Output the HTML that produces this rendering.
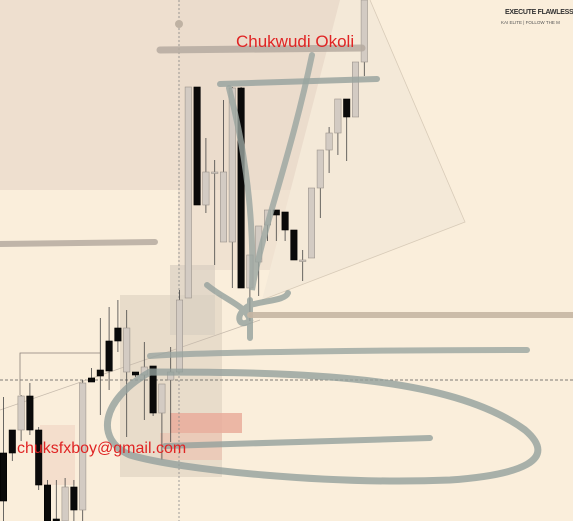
<!DOCTYPE html>
<html><head><meta charset="utf-8"><style>
html,body{margin:0;padding:0;background:#faeedb;}
svg{display:block;}
text{font-family:"Liberation Sans",sans-serif;}
</style></head><body>
<svg id="chart" width="573" height="521" viewBox="0 0 573 521" xmlns="http://www.w3.org/2000/svg">
<rect x="0" y="0" width="573" height="521" fill="#faeedb"/>
<rect x="0" y="0" width="340" height="190" fill="#eedfcf"/>
<rect x="178" y="0" width="162" height="270" fill="#eadbc9" opacity="0.6"/>
<polygon points="370,0 465,222 262,300 340,0" fill="#f4e9d8"/>
<polyline points="370,0 465,222 262,300" fill="none" stroke="#d8cbb8" stroke-width="0.8"/>
<rect x="120" y="295" width="102" height="182" fill="#e3d7c6" opacity="0.8"/>
<rect x="170" y="265" width="45" height="70" fill="#d9cfc2" opacity="0.7"/>
<rect x="170" y="413" width="72" height="20" fill="#e8a997" opacity="0.8"/>
<rect x="160" y="433" width="62" height="27" fill="#edc3b2" opacity="0.7"/>
<rect x="40" y="425" width="35" height="60" fill="#f3dac8" opacity="0.8"/>
<line x1="0" y1="380" x2="573" y2="380" stroke="#555" stroke-width="0.8" stroke-dasharray="3,2"/>
<line x1="179" y1="0" x2="179" y2="521" stroke="#888" stroke-width="0.8" stroke-dasharray="2,2"/>
<circle cx="179" cy="24" r="4" fill="#bfb2a3"/>
<line x1="0" y1="410" x2="260" y2="320" stroke="#c8bcae" stroke-width="0.8"/>
<polyline points="20,395 20,353 100,353" fill="none" stroke="#8a8078" stroke-width="0.8"/>
<g id="candles"></g>
<g fill="none" stroke-linecap="round">
<line x1="160" y1="50" x2="362" y2="48" stroke="#b5aaa0" stroke-width="7" opacity="0.85"/>
<line x1="220" y1="84" x2="377" y2="79" stroke="#9aa5a0" stroke-width="6" opacity="0.85"/>
<line x1="0" y1="244" x2="155" y2="242" stroke="#b5aaa0" stroke-width="6" opacity="0.85"/>
<path d="M229,88 C240,130 255,200 252,290 C262,230 290,160 312,55" stroke="#9aa5a0" stroke-width="6" opacity="0.8"/>
<path d="M207,285 C225,300 245,305 250,320 C240,330 232,315 250,305 C270,300 285,300 288,293 M250,300 L250,338" stroke="#93a09c" stroke-width="6" opacity="0.8"/>
<line x1="250" y1="315" x2="573" y2="315" stroke="#c5b6a3" stroke-width="6" opacity="0.9"/>
<path d="M150,356 C200,352 400,350 527,350" stroke="#9aa5a0" stroke-width="6" opacity="0.8"/>
<path d="M150,372 C300,372 450,375 525,430 C560,460 520,475 450,480 C330,485 180,470 130,455 C95,440 100,400 150,372" stroke="#93a09c" stroke-width="7" opacity="0.8"/>
<line x1="165" y1="446" x2="430" y2="438" stroke="#93a09c" stroke-width="6" opacity="0.8"/>
</g>
<text x="236" y="47" font-size="17" fill="#e02424">Chukwudi Okoli</text>
<text x="17" y="453" font-size="16" fill="#e02424">chuksfxboy@gmail.com</text>
<text x="505" y="14" font-size="7" font-weight="bold" letter-spacing="-0.3" fill="#333">EXECUTE FLAWLESS</text>
<text x="501" y="24" font-size="4.5" fill="#555">KAI ELITE | FOLLOW THE M</text>
</svg>
<script>
const opens  = [68, 91, 91,125,91, 36,  2, 0, 34,11, 143,151,180,193,149,149,146,155,108,141,149, 223,434,316,349,279,279,433,233,259,296,311,309,291,261,263,333,371,388,422,404,459];
const closes = [20, 68,125, 91,36, 0,  0, 34, 11,138,139,145,150,180,193,146,154,108,137,149,221, 434,316,349,349,349,433,233,266,295,311,306,291,261,261,333,371,388,422,404,459,521];
const highs  = [124,91,126,138,94,41, 41,43, 41,141,153,203,214,221,211,149,179,155,121,174,231, 434,434,383,361,421,434,434,266,295,311,311,308,291,271,333,371,394,422,422,459,521];
const lows   = [0,  60, 80, 86,31, 0,  0, 0,  0,  0,139,106,131,169, 84,144,101,105, 61, 79,149, 223,316,308,256,279,233,233,200,225,280,280,280,261,240,263,303,348,366,360,404,445];
const yOf = v => 521 - v;
const xOf = i => 3.5 + i * 8.8;
const g = document.getElementById('candles');
const NS = 'http://www.w3.org/2000/svg';
for (let i = 0; i < opens.length; i++) {
  const up = closes[i] >= opens[i];
  const x = xOf(i);
  const w = document.createElementNS(NS, 'line');
  
  
  w.setAttribute('x1', x); w.setAttribute('x2', x);
  w.setAttribute('y1', yOf(highs[i])); w.setAttribute('y2', yOf(lows[i]));
  w.setAttribute('stroke', '#444'); w.setAttribute('stroke-width', '0.8');
  g.appendChild(w);
  const top = yOf(Math.max(opens[i], closes[i]));
  const h = Math.max(1.5, Math.abs(closes[i] - opens[i]));
  const b = document.createElementNS(NS, 'rect');
  
  
  b.setAttribute('x', x - 3.2); b.setAttribute('y', top);
  b.setAttribute('width', 6.4); b.setAttribute('height', h);
  b.setAttribute('fill', up ? '#d3cbc3' : '#0a0a0a');
  b.setAttribute('stroke', up ? '#9c948c' : '#000');
  b.setAttribute('stroke-width', '0.6');
  g.appendChild(b);
}
</script>
</body></html>
